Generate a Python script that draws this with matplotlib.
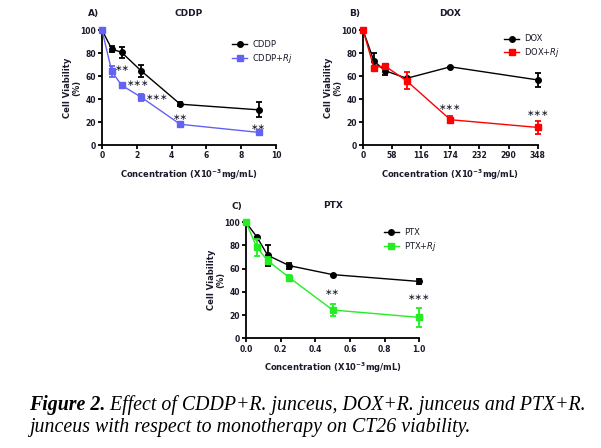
import numpy as np
import matplotlib.pyplot as plt
from matplotlib.lines import Line2D
from matplotlib.text import Annotation

# panel A - CDDP
cddp_x = [0, 0.5625, 1.125, 2.25, 4.5, 9]
cddp_y = [100, 83.5, 80.6, 64.5, 35.5, 30.6]
cddp_e = [0, 2.6, 4.5, 5, 2, 6.6]
cddp_rj_y = [100, 64, 52, 41.6, 18, 11]
cddp_rj_e = [0, 5, 2, 3, 1, 1]
# (x, y, label, anchor) for significance marks
cddp_stars = [(0.73, 66.5, '**', 'left'), (1.44, 53.8, '***', 'left'),
              (2.55, 41.6, '***', 'left'), (4.5, 24.3, '**', 'center'),
              (9, 15.6, '**', 'center')]

# panel B - DOX
dox_x = [0, 21.75, 43.5, 87, 174, 348]
dox_y = [100, 73, 64.7, 58, 68, 56.6]
dox_e = [0, 7, 3.5, 0, 0, 6]
dox_rj_y = [100, 67.3, 68.8, 55.8, 22, 15.3]
dox_rj_e = [0, 0, 0, 7.5, 3, 6]
dox_stars = [(174, 32.7, '***', 'center'), (348, 27.7, '***', 'center')]

# panel C - PTX
ptx_x = [0, 0.0625, 0.125, 0.25, 0.5, 1.0]
ptx_y = [100, 87.4, 71.6, 62.6, 54.9, 49]
ptx_e = [0, 0, 9, 2.5, 0, 2.5]
ptx_rj_y = [100, 78.4, 67, 52.3, 24.4, 18]
ptx_rj_e = [0, 7.5, 3, 2, 5.5, 8.5]
ptx_stars = [(0.5, 39.7, '**', 'center'), (1.0, 35, '***', 'center')]

TXT = '#1a1a2a'


def draw_panel(rect, letter, title, drug, x, y, e, y2, e2, col, stars,
               xticks, xlim, leg_pos):
    ax = fig.add_axes(rect)
    ax.errorbar(x, y, yerr=e, color='black', marker='o', ms=4, lw=1,
                elinewidth=1.3, capsize=2.5, capthick=1.3, clip_on=False,
                zorder=3)
    ax.errorbar(x, y2, yerr=e2, color=col, marker='s', ms=4.5, lw=1,
                elinewidth=1.3, capsize=2.5, capthick=1.3, clip_on=False,
                zorder=4)
    ax.set_xlim(xlim)
    ax.set_ylim(0, 100)
    ax.set_xticks(xticks)
    ax.set_yticks([0, 20, 40, 60, 80, 100])
    if isinstance(xticks[1], float):
        ax.set_xticklabels(['%.1f' % t for t in xticks])
    for s in ['top', 'right']:
        ax.spines[s].set_visible(False)
    for s in ['left', 'bottom']:
        ax.spines[s].set_linewidth(1.3)
    ax.tick_params(width=1.3, length=3, labelsize=5.5, pad=1.5, colors='black',
                   labelcolor=TXT)
    for lab in ax.get_xticklabels() + ax.get_yticklabels():
        lab.set_fontweight('bold')
    ax.set_xlabel('Concentration (X10$^{\\mathbf{-3}}$mg/mL)', fontsize=6,
                  fontweight='bold', color=TXT, labelpad=5)
    ax.set_ylabel('Cell Viability\n(%)', fontsize=6, fontweight='bold',
                  color=TXT, labelpad=-1, linespacing=1.1)
    ax.set_title(title, fontsize=6.5, fontweight='bold', color=TXT, pad=10)
    ax.text(-0.05, 1.14, letter, transform=ax.transAxes, fontsize=6.5,
            fontweight='bold', color=TXT, ha='center', va='center')
    handles = [Line2D([], [], color='black', marker='o', ms=4, lw=1),
               Line2D([], [], color=col, marker='s', ms=4.5, lw=1)]
    labels = [drug, drug + '+$\\it{Rj}$']
    leg = ax.legend(handles, labels, loc='upper left', bbox_to_anchor=leg_pos,
                    frameon=False, fontsize=6, handlelength=1.8,
                    handletextpad=0.6, labelspacing=0.35, borderaxespad=0)
    for t in leg.get_texts():
        t.set_color(TXT)
    for sx, sy, st, ha in stars:
        ax.text(sx, sy, '\u2217' * len(st), fontsize=6.5, color=TXT,
                ha=ha, va='center')
    return ax


fig = plt.figure(figsize=(6.01, 4.48), dpi=100)

draw_panel([0.1697, 0.6763, 0.2895, 0.2567], 'A)', 'CDDP', 'CDDP',
           cddp_x, cddp_y, cddp_e, cddp_rj_y, cddp_rj_e, '#6262f5',
           cddp_stars, [0, 2, 4, 6, 8, 10], (0, 10), (0.73, 0.945))
draw_panel([0.604, 0.6763, 0.2907, 0.2567], 'B)', 'DOX', 'DOX',
           dox_x, dox_y, dox_e, dox_rj_y, dox_rj_e, '#ff0000',
           dox_stars, [0, 58, 116, 174, 232, 290, 348], (0, 348), (0.79, 0.99))
draw_panel([0.4093, 0.2449, 0.2884, 0.2589], 'C)', 'PTX', 'PTX',
           ptx_x, ptx_y, ptx_e, ptx_rj_y, ptx_rj_e, '#22ee22',
           ptx_stars, [0.0, 0.2, 0.4, 0.6, 0.8, 1.0], (0, 1.0), (0.775, 0.98))

cap_kw = dict(fontsize=14.3, family='Liberation Serif', style='italic',
              va='center')
t1 = fig.text(0.048, 0.096, 'Figure 2.', fontweight='bold', **cap_kw)
fig.add_artist(Annotation(' Effect of CDDP+R. junceus, DOX+R. junceus and PTX+R.',
                          xy=(1, 0.5), xycoords=t1, **cap_kw))
fig.text(0.048, 0.045, 'junceus with respect to monotherapy on CT26 viability.',
         **cap_kw)

fig.savefig('out.png', dpi=100)
